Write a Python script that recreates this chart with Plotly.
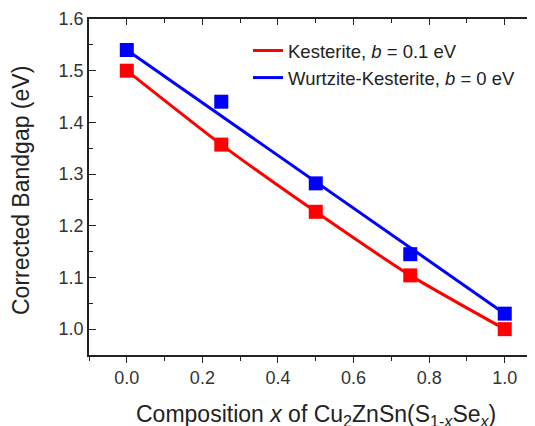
import plotly.graph_objects as go

composition = [0.0, 0.25, 0.5, 0.75, 1.0]
kesterite_pts = [1.500, 1.357, 1.227, 1.104, 1.000]
wurtzite_pts = [1.540, 1.440, 1.282, 1.145, 1.030]
kesterite_fit = [1.500, 1.357, 1.227, 1.104, 1.000]
wurtzite_fit_x = [0.0, 1.0]
wurtzite_fit = [1.540, 1.030]

RED = "#ff0000"
BLUE = "#0000ff"
FONT = "Liberation Sans, Arial, sans-serif"

# page body has an 8px margin; figure is sized to fill the rest of the window
W, H = 527, 418
L, R, T, B = 81, 0, 11, 71
PW, PH = W - L - R, H - T - B

fig = go.Figure()
fig.add_trace(go.Scatter(x=composition, y=kesterite_fit, mode="lines",
                         line=dict(color=RED, width=3, shape="spline", smoothing=0.6),
                         name="Kesterite, <i>b</i> = 0.1 eV"))
fig.add_trace(go.Scatter(x=wurtzite_fit_x, y=wurtzite_fit, mode="lines",
                         line=dict(color=BLUE, width=3),
                         name="Wurtzite-Kesterite, <i>b</i> = 0 eV"))
fig.add_trace(go.Scatter(x=composition, y=kesterite_pts, mode="markers",
                         marker=dict(symbol="square", size=14, color=RED),
                         showlegend=False))
fig.add_trace(go.Scatter(x=composition, y=wurtzite_pts, mode="markers",
                         marker=dict(symbol="square", size=14, color=BLUE),
                         showlegend=False))
# invisible trace to activate top axis
fig.add_trace(go.Scatter(x=[0], y=[1.2], xaxis="x2", mode="markers",
                         marker=dict(opacity=0), showlegend=False, hoverinfo="skip"))

xr = [-0.1, 1.08]
fig.update_layout(
    width=W, height=H,
    margin=dict(l=L, r=R, t=T, b=B, pad=0),
    paper_bgcolor="white", plot_bgcolor="white",
    font=dict(family=FONT, color="#222222"),
    showlegend=True,
    legend=dict(x=(240 - L) / PW, xanchor="left",
                y=1 - (24 - T) / PH, yanchor="top",
                bgcolor="rgba(0,0,0,0)", font=dict(size=18.5, family=FONT, color="#222222"),
                tracegroupgap=0, itemwidth=30),
    xaxis=dict(range=xr, showgrid=False, zeroline=False, showline=True, automargin=False,
               linecolor="#222222", linewidth=1.5, ticks="outside", ticklen=6,
               tickwidth=1.3, tickcolor="#222222", tickvals=[0, 0.2, 0.4, 0.6, 0.8, 1.0],
               ticktext=["0.0", "0.2", "0.4", "0.6", "0.8", "1.0"],
               tickfont=dict(size=18, family=FONT, color="#333333"),
               minor=dict(tickvals=[-0.1, 0.1, 0.3, 0.5, 0.7, 0.9], ticks="outside",
                          ticklen=4, tickwidth=1.3, tickcolor="#222222")),
    xaxis2=dict(range=xr, overlaying="x", side="top", showgrid=False, zeroline=False,
                showline=True, linecolor="#222222", linewidth=1.5, ticks="inside",
                ticklen=6, tickwidth=1.3, tickcolor="#222222", automargin=False,
                tickvals=[0, 0.2, 0.4, 0.6, 0.8, 1.0], showticklabels=False,
                minor=dict(tickvals=[0.1, 0.3, 0.5, 0.7, 0.9], ticks="inside",
                           ticklen=4, tickwidth=1.3, tickcolor="#222222")),
    yaxis=dict(range=[0.95, 1.6], showgrid=False, zeroline=False, showline=True,
               automargin=False,
               linecolor="#222222", linewidth=1.5, ticks="inside", ticklen=7,
               tickwidth=1.3, tickcolor="#222222",
               tickvals=[1.0, 1.1, 1.2, 1.3, 1.4, 1.5, 1.6],
               ticktext=["1.0", "1.1", "1.2", "1.3", "1.4", "1.5", "1.6"],
               tickfont=dict(size=18, family=FONT, color="#333333"),
               minor=dict(tickvals=[1.05, 1.15, 1.25, 1.35, 1.45, 1.55], ticks="inside",
                          ticklen=4, tickwidth=1.3, tickcolor="#222222")),
    annotations=[
        dict(text="Composition <i>x</i> of Cu<sub>2</sub>ZnSn(S<sub>1-<i>x</i></sub>Se<sub><i>x</i></sub>)",
             xref="paper", yref="paper", x=(308 - L) / PW, y=-(391 - (H - B)) / PH,
             xanchor="center", yanchor="top", showarrow=False,
             font=dict(size=23, family=FONT, color="#222222")),
        dict(text="Corrected Bandgap (eV)", textangle=-90,
             xref="paper", yref="paper", x=-(L - 13) / PW, y=(H - B - 183) / PH,
             xanchor="center", yanchor="middle", showarrow=False,
             font=dict(size=23, family=FONT, color="#222222")),
    ],
)

fig.write_html("out.html")
